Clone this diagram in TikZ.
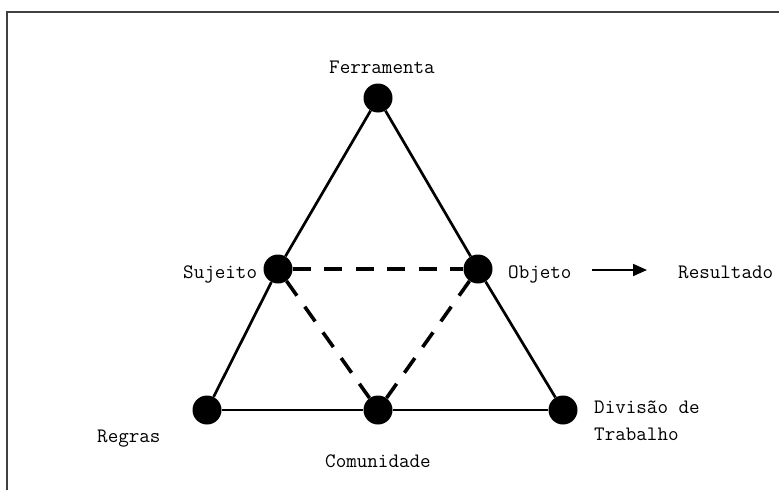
\documentclass[tikz,border=0pt]{standalone}
\usepackage{fontspec}
\usetikzlibrary{arrows.meta}
\begin{document}
\begin{tikzpicture}[x=1pt,y=-1pt,
  dot/.style={circle,fill=black,draw=none,minimum size=29pt,inner sep=0pt},
  solidline/.style={line width=2.7pt,black},
  dashline/.style={line width=3.6pt,black,dash pattern=on 18pt off 13.5pt},
  lbl/.style={inner sep=0pt,font=\ttfamily\fontsize{20.5}{22}\selectfont,text height=16pt,text depth=0pt,anchor=base west},
  resarrow/.style={line width=1.8pt,-{Triangle[length=14pt,width=12pt]}}]
\useasboundingbox (0,0) rectangle (779,490);
\fill[white] (0,0) rectangle (779,490);
% frame
\draw[line width=1.4pt,black!75] (7,490) -- (7,12) -- (779,12);
% nodes
\node[dot] (F) at (378,98) {};
\node[dot] (S) at (278,269) {};
\node[dot] (O) at (478,269) {};
\node[dot] (R) at (207,410) {};
\node[dot] (C) at (378,410) {};
\node[dot] (D) at (563,410) {};
% solid edges
\draw[solidline] (F) -- (S);
\draw[solidline] (S) -- (R);
\draw[solidline] (F) -- (O);
\draw[solidline] (O) -- (D);
\draw[solidline] (R) -- (C);
\draw[solidline] (C) -- (D);
% dashed edges
\draw[dashline] (S) -- (O);
\draw[dashline] (S) -- (C);
\draw[dashline] (O) -- (C);
% labels
\node[lbl] (Fl) at (329,73) {Ferramenta};
\node[lbl] (Sl) at (183,278) {Sujeito};
\node[lbl] (Ol) at (508,278) {Objeto};
\node[lbl] (Resl) at (678,278) {Resultado};
\node[lbl] (Rl) at (97,442) {Regras};
\node[lbl] (Cl) at (325,467) {Comunidade};
\node[lbl] (Dl1) at (594,413) {Divisão de};
\node[lbl] (Dl2) at (594,440) {Trabalho};
% arrow
\draw[resarrow,shorten <=20pt,shorten >=31pt] (Ol.east) -- (Resl.west);
\end{tikzpicture}
\end{document}
